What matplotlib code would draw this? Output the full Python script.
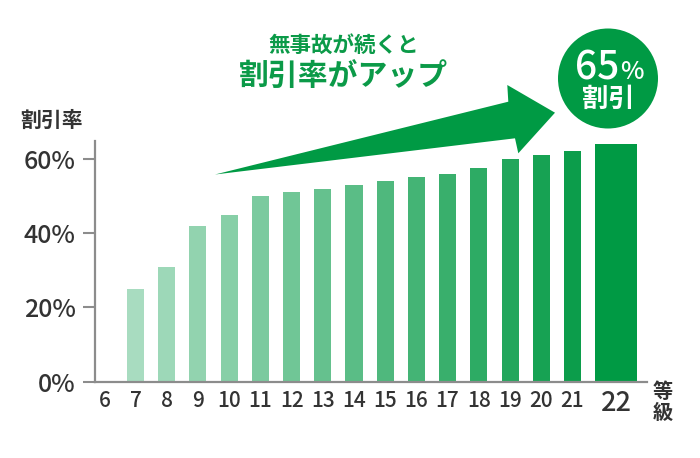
import numpy as np
import matplotlib
matplotlib.use("Agg")
import matplotlib.pyplot as plt
from matplotlib.patches import Polygon, Circle
from matplotlib.colors import to_rgb

plt.rcParams['font.family'] = ['Noto Sans CJK JP', 'DejaVu Sans']

# データ（等級と割引率）
grades = ['6', '7', '8', '9', '10', '11', '12', '13', '14', '15',
          '16', '17', '18', '19', '20', '21', '22']
rates = [0, 25, 31, 42, 45, 50, 51, 52, 53, 54, 55, 56, 57.5, 60, 61, 62, 64]
yticks = [0, 20, 40, 60]
ytick_labels = ['0%', '20%', '40%', '60%']

GREEN = '#009a44'
TEXT = '#333333'
AXIS = '#8c8c8c'

W, H = 700, 458
fig = plt.figure(figsize=(W / 100, H / 100), dpi=100)

# 本体の軸
ax = fig.add_axes([95 / W, 1 - 381.7 / H, (646.7 - 95) / W, (381.7 - 141) / H])

n = len(grades)
x = np.arange(n, dtype=float)
x[-1] += 0.4          # 22等級だけ少し離す
widths = np.full(n, 0.545)
widths[-1] = 1.35

# 色のグラデーション（7等級→21等級）、22等級は濃い緑
c0 = np.array(to_rgb('#a8dcc0'))
c1 = np.array(to_rgb('#0c9d4b'))
colors = []
for i in range(n):
    t = (i - 1) / (n - 3) if n > 3 else 1
    t = min(max(t, 0), 1)
    colors.append(tuple(c0 + (c1 - c0) * t))
colors[-1] = GREEN

ax.bar(x, rates, width=widths, color=colors, linewidth=0)

ax.set_xlim(-0.3, 17.38)
ax.set_ylim(0, 64.8)
ax.set_yticks(yticks)
ax.set_yticklabels(ytick_labels, fontsize=18, color=TEXT, fontweight='medium')
ax.set_xticks(x)
ax.set_xticklabels(grades, fontsize=15, color=TEXT, fontweight='medium')
xl = ax.get_xticklabels()
xl[-1].set_fontsize(19.5)
ax.tick_params(axis='x', length=0, pad=6)
ax.tick_params(axis='y', length=9, width=1.5, color=AXIS, pad=5)

for s in ['top', 'right']:
    ax.spines[s].set_visible(False)
for s in ['left', 'bottom']:
    ax.spines[s].set_color(AXIS)
    ax.spines[s].set_linewidth(1.6)

# 装飾用のオーバーレイ（ピクセル座標）
ov = fig.add_axes([0, 0, 1, 1], zorder=5)
ov.set_xlim(0, W)
ov.set_ylim(H, 0)
ov.axis('off')

arrow = [(215, 174.5), (508.3, 101.7), (507.3, 85), (555, 112.7),
         (518.3, 153.3), (515, 138.3)]
ov.add_patch(Polygon(arrow, closed=True, facecolor=GREEN, edgecolor='none'))

ov.add_patch(Circle((608, 78.5), 50, facecolor=GREEN, edgecolor='none'))
ov.text(619, 79, '65', color='white', fontsize=28, ha='right', va='baseline',
        fontweight='medium')
ov.text(620, 79, '%', color='white', fontsize=18, ha='left', va='baseline',
        fontweight='medium')
ov.text(608, 99, '割引', color='white', fontsize=19, ha='center', va='center',
        fontweight='bold')

ov.text(344, 45, '無事故が続くと', color='#0b9a48', fontsize=15.5,
        ha='center', va='center', fontweight='bold')
ov.text(343, 77, '割引率がアップ', color='#0b9a48', fontsize=21.5,
        ha='center', va='center', fontweight='bold')

ov.text(52, 120, '割引率', color=TEXT, fontsize=15, ha='center', va='center',
        fontweight='bold')
ov.text(663, 402, '等\n級', color=TEXT, fontsize=14.5, ha='center', va='center',
        linespacing=1.05, fontweight='bold')

fig.savefig('out.png', dpi=100)
